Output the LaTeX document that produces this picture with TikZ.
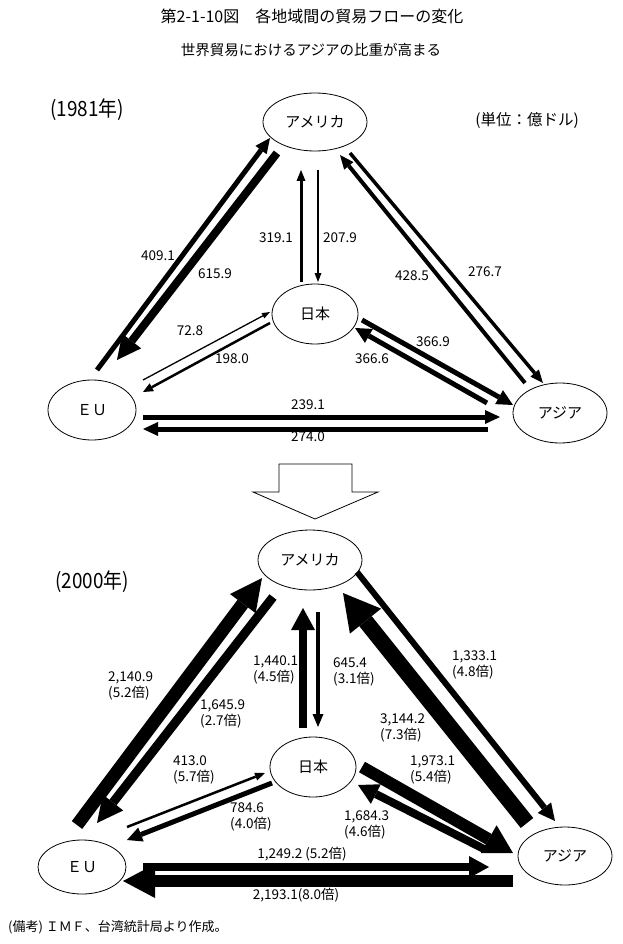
\documentclass[tikz,border=0pt]{standalone}
\usepackage{fontspec}
\setmainfont{Noto Sans CJK JP}
\usetikzlibrary{arrows.meta,shapes.geometric}
\tikzset{
  region/.style={draw, ellipse, line width=0.8pt, inner sep=0pt, font=\fontsize{15}{18}\selectfont},
  lbl/.style={inner sep=0pt, font=\fontsize{13.5}{15.5}\selectfont},
  lbltwo/.style={inner sep=0pt, align=left, anchor=west, font=\fontsize{13.5}{15.5}\selectfont},
  flow/.style n args={3}{line width=#1pt, -{Triangle[length=#2pt,width=#3pt,line width=0pt]}},
}
\begin{document}
\begin{tikzpicture}[x=1pt,y=-1pt]
\useasboundingbox (0,0) rectangle (622,944);
% titles
\node[inner sep=0pt, font=\fontsize{16}{19}\selectfont] (title) at (312,16) {第2-1-10図　各地域間の貿易フローの変化};
\node[inner sep=0pt, font=\fontsize{14.5}{17}\selectfont] (subtitle) at (311,50) {世界貿易におけるアジアの比重が高まる};
\node[inner sep=0pt, anchor=west] (y1981) at (50,110) {\scalebox{0.9}[1]{\fontsize{21}{25}\selectfont (1981年)}};
\node[inner sep=0pt, font=\fontsize{15.5}{18}\selectfont] (unit) at (527,121) {(単位：億ドル)};
\node[inner sep=0pt, anchor=west] (y2000) at (55,582) {\scalebox{0.9}[1]{\fontsize{21}{25}\selectfont (2000年)}};
\node[inner sep=0pt, anchor=west, font=\fontsize{13}{15}\selectfont] (note) at (8,927) {(備考)\ ＩＭＦ、台湾統計局より作成。};

% ---------- 1981 ----------
\node[region, minimum width=104pt, minimum height=58pt] (us1) at (315,122) {アメリカ};
\node[region, minimum width=86pt, minimum height=60pt] (jp1) at (315,314) {日本};
\node[region, minimum width=88pt, minimum height=60pt] (eu1) at (92,410) {ＥＵ};
\node[region, minimum width=94pt, minimum height=60pt] (as1) at (560,413) {アジア};

\coordinate (a1s) at (97,370);  \coordinate (a1e) at (270,138);
\coordinate (a2s) at (277,153); \coordinate (a2e) at (117,360);
\coordinate (a3s) at (301,282); \coordinate (a3e) at (301,170);
\coordinate (a4s) at (318,170); \coordinate (a4e) at (318,282);
\coordinate (a5s) at (143,380); \coordinate (a5e) at (270,312);
\coordinate (a6s) at (270,323); \coordinate (a6e) at (143,392);
\coordinate (a7s) at (350,153); \coordinate (a7e) at (543,383);
\coordinate (a8s) at (525,383); \coordinate (a8e) at (340,155);
\coordinate (a9s) at (362,320); \coordinate (a9e) at (513,405);
\coordinate (a10s) at (487,403); \coordinate (a10e) at (355,328);
\coordinate (a11s) at (143,417); \coordinate (a11e) at (500,417);
\coordinate (a12s) at (488,429); \coordinate (a12e) at (143,429);

\draw[flow={5}{15}{14}] (a1s) -- (a1e);
\draw[flow={8}{24}{24}] (a2s) -- (a2e);
\draw[flow={3}{11}{9}] (a3s) -- (a3e);
\draw[flow={2}{9}{7}] (a4s) -- (a4e);
\draw[flow={1.3}{8}{6}] (a5s) -- (a5e);
\draw[flow={2.5}{10}{9}] (a6s) -- (a6e);
\draw[flow={3.5}{13}{11}] (a7s) -- (a7e);
\draw[flow={4}{14}{12}] (a8s) -- (a8e);
\draw[flow={5}{16}{16}] (a9s) -- (a9e);
\draw[flow={5}{16}{16}] (a10s) -- (a10e);
\draw[flow={5}{15}{14}] (a11s) -- (a11e);
\draw[flow={5}{15}{14}] (a12s) -- (a12e);

\node[lbl] (l1) at (158,256) {409.1};
\node[lbl] (l2) at (215,274) {615.9};
\node[lbl] (l3) at (276,238) {319.1};
\node[lbl] (l4) at (340,238) {207.9};
\node[lbl] (l5) at (190,331) {72.8};
\node[lbl] (l6) at (232,359) {198.0};
\node[lbl] (l7) at (412,276) {428.5};
\node[lbl] (l8) at (485,272) {276.7};
\node[lbl] (l9) at (433,342) {366.9};
\node[lbl] (l10) at (372,359) {366.6};
\node[lbl] (l11) at (308,405) {239.1};
\node[lbl] (l12) at (308,437) {274.0};

% ---------- big arrow ----------
\draw[line width=0.8pt, line join=miter] (279,464) -- (352,464) -- (352,492) -- (378,492) -- (315,519) -- (253,492) -- (279,492) -- cycle;

% ---------- 2000 ----------
\node[region, minimum width=104pt, minimum height=60pt] (us2) at (310,560) {アメリカ};
\node[region, minimum width=86pt, minimum height=60pt] (jp2) at (313,767) {日本};
\node[region, minimum width=88pt, minimum height=54pt] (eu2) at (82,867) {ＥＵ};
\node[region, minimum width=94pt, minimum height=58pt] (as2) at (565,856) {アジア};

\coordinate (b1s) at (77,825);  \coordinate (b1e) at (262,578);
\coordinate (b2s) at (273,597); \coordinate (b2e) at (97,823);
\coordinate (b3s) at (303,728); \coordinate (b3e) at (303,608);
\coordinate (b4s) at (318,612); \coordinate (b4e) at (318,727);
\coordinate (b5s) at (127,827); \coordinate (b5e) at (265,773);
\coordinate (b6s) at (272,783); \coordinate (b6e) at (127,840);
\coordinate (b7s) at (357,572); \coordinate (b7e) at (555,821);
\coordinate (b8s) at (527,823); \coordinate (b8e) at (343,593);
\coordinate (b9s) at (362,767); \coordinate (b9e) at (513,853);
\coordinate (b10s) at (484,849); \coordinate (b10e) at (358,785);
\coordinate (b11s) at (143,867); \coordinate (b11e) at (489,867);
\coordinate (b12s) at (513,881); \coordinate (b12e) at (123,881);

\draw[flow={13}{32}{32}] (b1s) -- (b1e);
\draw[flow={9}{26}{26}] (b2s) -- (b2e);
\draw[flow={8}{22}{24}] (b3s) -- (b3e);
\draw[flow={4}{13}{11}] (b4s) -- (b4e);
\draw[flow={2.5}{10}{8}] (b5s) -- (b5e);
\draw[flow={5}{15}{15}] (b6s) -- (b6e);
\draw[flow={6}{17}{17}] (b7s) -- (b7e);
\draw[flow={16}{36}{40}] (b8s) -- (b8e);
\draw[flow={12}{28}{32}] (b9s) -- (b9e);
\draw[flow={8}{20}{22}] (b10s) -- (b10e);
\draw[flow={8}{20}{22}] (b11s) -- (b11e);
\draw[flow={12}{32}{34}] (b12s) -- (b12e);

\node[lbltwo] (m1) at (108,686) {2,140.9\\(5.2倍)};
\node[lbltwo] (m2) at (200,714) {1,645.9\\(2.7倍)};
\node[lbltwo] (m3) at (253,670) {1,440.1\\(4.5倍)};
\node[lbltwo] (m4) at (333,672) {645.4\\(3.1倍)};
\node[lbltwo] (m5) at (452,665) {1,333.1\\(4.8倍)};
\node[lbltwo] (m6) at (380,728) {3,144.2\\(7.3倍)};
\node[lbltwo] (m7) at (410,770) {1,973.1\\(5.4倍)};
\node[lbltwo] (m8) at (344,825) {1,684.3\\(4.6倍)};
\node[lbltwo] (m9) at (173,770) {413.0\\(5.7倍)};
\node[lbltwo] (m10) at (230,817) {784.6\\(4.0倍)};
\node[lbl] (m11) at (302,854) {1,249.2 (5.2倍)};
\node[lbl] (m12) at (296,895) {2,193.1(8.0倍)};
\end{tikzpicture}
\end{document}
